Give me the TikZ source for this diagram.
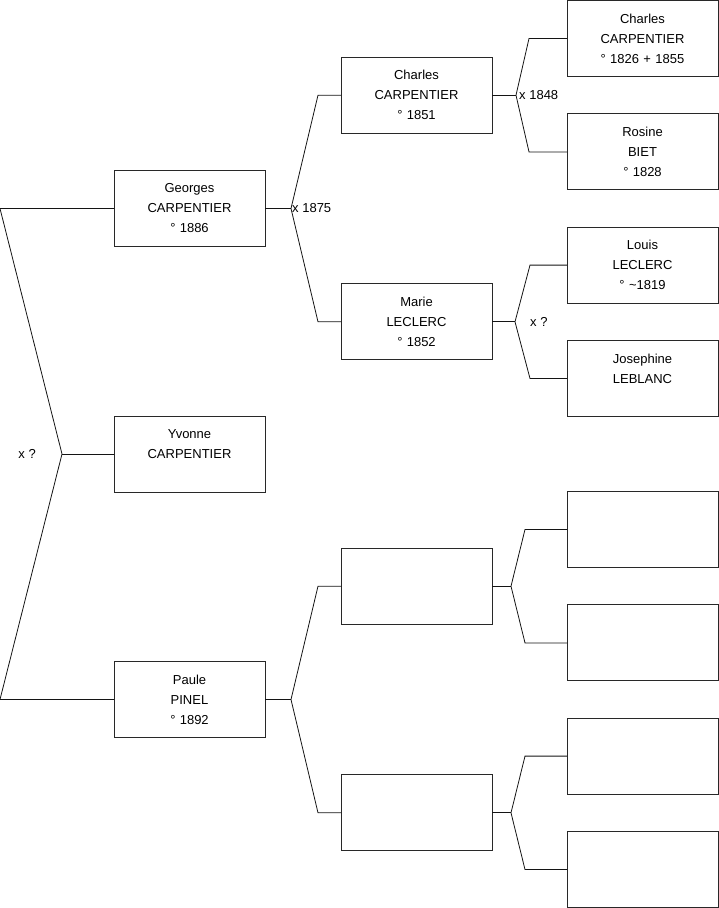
\documentclass[tikz,border=0pt]{standalone}
\usepackage{fontspec}
\setmainfont{Liberation Sans}
\usepackage{tikz}
\usetikzlibrary{positioning}
\definecolor{treeline}{RGB}{20,20,20}
\definecolor{boxline}{RGB}{40,40,40}
\tikzset{
  person/.style={rectangle, draw=boxline, fill=white,
    minimum width=151pt, minimum height=76pt, text width=145pt,
    align=center, inner sep=0pt, outer sep=0pt,
    font=\fontsize{13}{20}\selectfont, line width=0.9pt},
  link/.style={draw=treeline, line width=0.8pt},
  union/.style={inner sep=0pt, font=\fontsize{13}{16}\selectfont}
}

\begin{document}
\begin{tikzpicture}[x=1pt, y=1pt]
  \useasboundingbox (0,0) rectangle (719,-908);

  % Generation 1
  \node[person] (georges) at (189.5,-208.5) {Georges\\CARPENTIER\\° 1886};
  \node[person, below=169.5pt of georges] (yvonne) {Yvonne\\CARPENTIER\\~};
  \node[person, below=169.5pt of yvonne] (paule) {Paule\\PINEL\\° 1892};

  % Generation 2
  \node[person, right=76pt of georges, yshift=113.3pt] (charles) {Charles\\CARPENTIER\\° 1851};
  \node[person, right=76pt of georges, yshift=-113.3pt] (marie) {Marie\\LECLERC\\° 1852};
  \node[person, right=76pt of paule, yshift=113.3pt] (pfather) {};
  \node[person, right=76pt of paule, yshift=-113.3pt] (pmother) {};

  % Generation 3
  \node[person, right=75pt of charles, yshift=56.7pt] (charlessr) {Charles\\CARPENTIER\\° 1826 + 1855};
  \node[person, right=75pt of charles, yshift=-56.7pt] (rosine) {Rosine\\BIET\\° 1828};
  \node[person, right=75pt of marie, yshift=56.7pt] (louis) {Louis\\LECLERC\\° \textasciitilde1819};
  \node[person, right=75pt of marie, yshift=-56.7pt] (josephine) {Josephine\\LEBLANC\\~};
  \node[person, right=75pt of pfather, yshift=56.7pt] (pff) {};
  \node[person, right=75pt of pfather, yshift=-56.7pt] (pfm) {};
  \node[person, right=75pt of pmother, yshift=56.7pt] (pmf) {};
  \node[person, right=75pt of pmother, yshift=-56.7pt] (pmm) {};

  % Links
  \draw[link] (georges.west) -- ++(-114,0) -- ([xshift=-52pt]yvonne.west) coordinate (u0)
    -- ([xshift=-114pt]paule.west) -- (paule.west);
  \draw[link] (u0) -- (yvonne.west);
  \node[union, left=26pt of u0] (u0x) {x ?};

  \draw[link] (georges.east) -- ++(26,0) coordinate (u1);
  \draw[link] (charles.west) -- ++(-23,0) -- (u1) -- ([xshift=-23pt]marie.west) -- (marie.west);
  \node[union, right=1pt of u1] (u1x) {x 1875};

  \draw[link] (paule.east) -- ++(26,0) coordinate (u2);
  \draw[link] (pfather.west) -- ++(-23,0) -- (u2) -- ([xshift=-23pt]pmother.west) -- (pmother.west);

  \draw[link] (charles.east) -- ++(24,0) coordinate (u3);
  \draw[link] (charlessr.west) -- ++(-38,0) -- (u3) -- ([xshift=-38pt]rosine.west) -- (rosine.west);
  \node[union, right=3pt of u3] (u3x) {x 1848};

  \draw[link] (marie.east) -- ++(23,0) coordinate (u4);
  \draw[link] (louis.west) -- ++(-37,0) -- (u4) -- ([xshift=-37pt]josephine.west) -- (josephine.west);
  \node[union, right=15pt of u4] (u4x) {x ?};

  \draw[link] (pfather.east) -- ++(19,0) coordinate (u5);
  \draw[link] (pff.west) -- ++(-42,0) -- (u5) -- ([xshift=-42pt]pfm.west) -- (pfm.west);

  \draw[link] (pmother.east) -- ++(19,0) coordinate (u6);
  \draw[link] (pmf.west) -- ++(-42,0) -- (u6) -- ([xshift=-42pt]pmm.west) -- (pmm.west);
\end{tikzpicture}
\end{document}
